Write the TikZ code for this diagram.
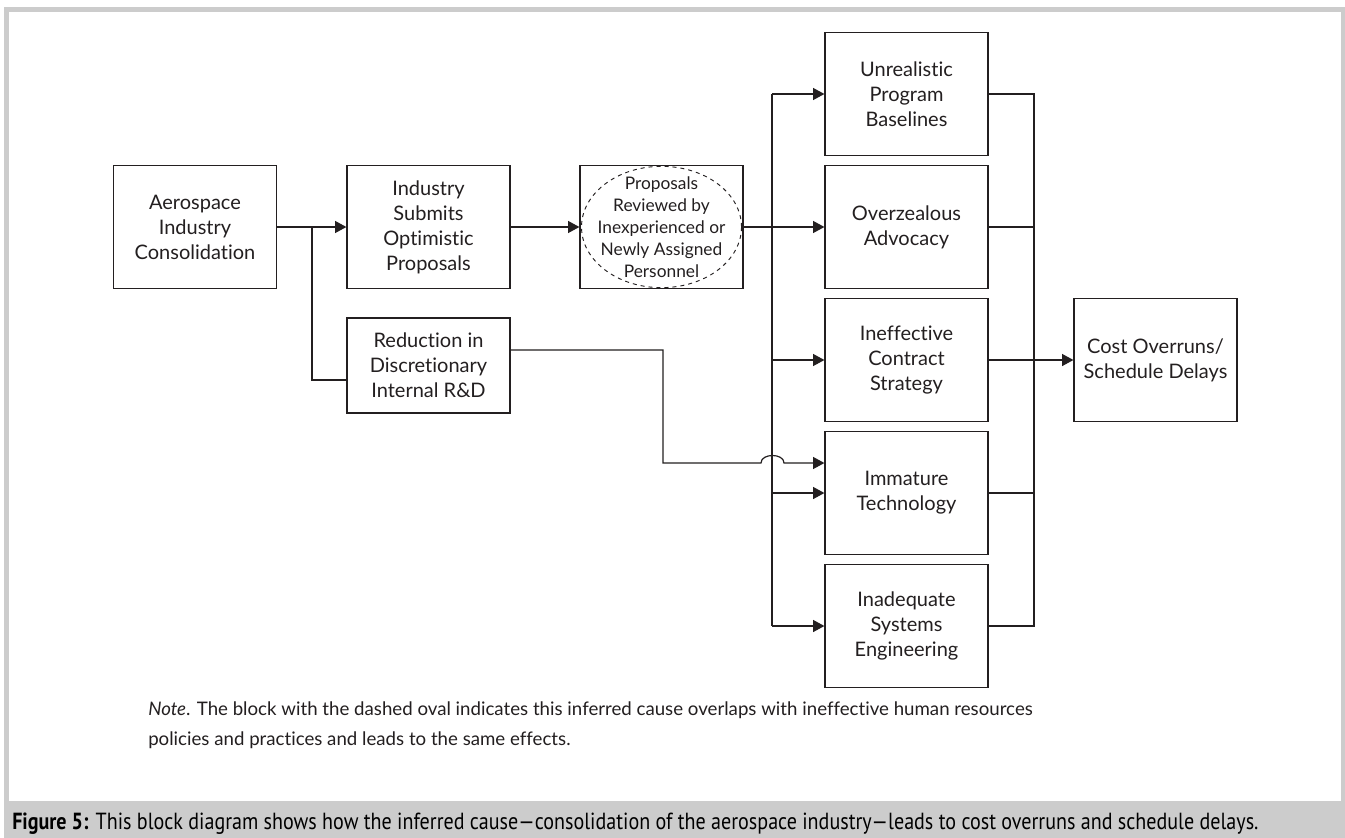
\documentclass[tikz,border=0pt]{standalone}
\usepackage{fontspec}
\setmainfont{Lato}[Ligatures={NoCommon}]
\newfontfamily\capfont[FakeStretch=0.86]{PT Sans}
\usetikzlibrary{arrows.meta,shapes.geometric}
\definecolor{ink}{RGB}{35,31,32}
\definecolor{framegray}{RGB}{204,204,204}
\tikzset{
  blk/.style={draw=ink, line width=0.9pt, minimum width=122.25pt, minimum height=92.25pt,
    inner sep=2pt, align=center, text=ink, font=\fontsize{15}{18.75}\selectfont},
  wire/.style={draw=ink, line width=0.9pt},
  arr/.style={-{Triangle[length=8.5pt,width=9pt]}},
}
\begin{document}
\begin{tikzpicture}[x=0.75pt,y=-0.75pt]
\useasboundingbox (0,0) rectangle (1345,838);
% frame and caption band
\fill[white] (0,0) rectangle (1345,838);
\fill[framegray] (4,7) rectangle (1345,838);
\fill[white] (9,12) rectangle (1341,801);

% blocks
\node[blk] (aero) at (195,227) {Aerospace\\Industry\\Consolidation};
\node[blk] (subm) at (428.5,227) {Industry\\Submits\\Optimistic\\Proposals};
\node[blk, minimum height=71.25pt] (redu) at (428.5,365.5) {Reduction in\\Discretionary\\Internal R\&D};
\node[blk, font=\fontsize{13}{16.5}\selectfont] (prop) at (661.5,227)
  {Proposals\\Reviewed by\\Inexperienced or\\Newly Assigned\\Personnel};
\node[draw=ink, dashed, ellipse, line width=0.7pt, inner sep=0pt,
  minimum width=120pt, minimum height=91pt] (oval) at (prop.center) {};
\node[blk] (unre) at (906.5,94) {Unrealistic\\Program\\Baselines};
\node[blk] (over) at (906.5,227) {Overzealous\\Advocacy};
\node[blk] (inef) at (906.5,360) {Ineffective\\Contract\\Strategy};
\node[blk] (imma) at (906.5,493) {Immature\\Technology};
\node[blk] (inad) at (906.5,626) {Inadequate\\Systems\\Engineering};
\node[blk] (cost) at (1155.5,360) {Cost Overruns/\\Schedule Delays};

% left branch
\coordinate (split) at (312,227);
\coordinate (rin) at (312,380);
\draw[wire,arr] (aero) -- (subm);
\draw[wire] (split) -- (rin) -- (rin -| redu.west);
\draw[wire,arr] (subm) -- (prop);
\draw[wire,arr] (prop) -- (over);

% distribution bus
\coordinate (bustop) at (772,94);
\coordinate (busbot) at (772,626);
\draw[wire] (bustop) -- (busbot);
\draw[wire,arr] (bustop) -- (unre.west);
\draw[wire,arr] (bustop |- inef.west) -- (inef.west);
\draw[wire,arr] (bustop |- imma.west) -- (imma.west);
\draw[wire,arr] (busbot) -- (inad.west);

% R&D path hopping over the bus
\coordinate (rturn) at (663,350);
\coordinate (hopL) at (761,463);
\coordinate (hopR) at (784,463);
\draw[wire,arr] (redu.east |- rturn) -- (rturn) |- (hopL)
  .. controls (761,453) and (784,453) .. (hopR) -- (imma.west |- hopR);

% collector into the outcome
\coordinate (jtop) at (1034,94);
\coordinate (jbot) at (1034,626);
\draw[wire] (unre.east) -- (jtop) -- (jbot) -- (inad.east);
\draw[wire] (over.east) -- (over.east -| jtop);
\draw[wire] (imma.east) -- (imma.east -| jtop);
\draw[wire,arr] (inef) -- (cost);

% note
\node[anchor=north west, align=left, inner sep=0pt, text=ink,
  font=\fontsize{14}{22.5}\selectfont] (note) at (148,701)
  {\textit{Note}. The block with the dashed oval indicates this inferred cause overlaps with ineffective human resources\\
   policies and practices and leads to the same effects.};

% caption
\node[anchor=base west, inner sep=0pt, text=black,
  font=\capfont\fontsize{17.5}{20}\selectfont] (caption) at (12,829)
  {\textbf{Figure 5:} This block diagram shows how the inferred cause\textemdash consolidation of the aerospace industry\textemdash leads to cost overruns and schedule delays.};
\end{tikzpicture}
\end{document}
